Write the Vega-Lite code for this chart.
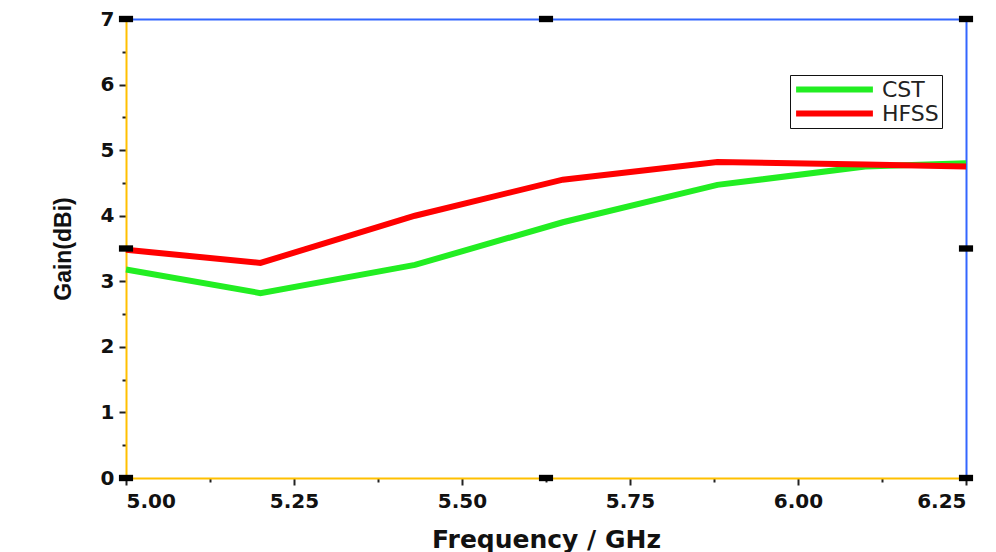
{
  "$schema": "https://vega.github.io/schema/vega-lite/v6.json",
  "autosize": {"type": "none"},
  "width": 840,
  "height": 459,
  "padding": {"left": 126, "top": 19, "right": 30, "bottom": 74},
  "background": "white",
  "config": {
    "view": {"stroke": null},
    "font": "DejaVu Sans",
    "axis": {"grid": false, "labelColor": "#111", "titleColor": "#111"}
  },
  "datasets": {
    "gain": [
      {"freq": 5.0, "gain": 3.18, "series": "CST"},
      {"freq": 5.2, "gain": 2.82, "series": "CST"},
      {"freq": 5.43, "gain": 3.25, "series": "CST"},
      {"freq": 5.65, "gain": 3.9, "series": "CST"},
      {"freq": 5.88, "gain": 4.47, "series": "CST"},
      {"freq": 6.1, "gain": 4.75, "series": "CST"},
      {"freq": 6.25, "gain": 4.8, "series": "CST"},
      {"freq": 5.0, "gain": 3.48, "series": "HFSS"},
      {"freq": 5.2, "gain": 3.28, "series": "HFSS"},
      {"freq": 5.43, "gain": 4.0, "series": "HFSS"},
      {"freq": 5.65, "gain": 4.55, "series": "HFSS"},
      {"freq": 5.88, "gain": 4.82, "series": "HFSS"},
      {"freq": 6.1, "gain": 4.78, "series": "HFSS"},
      {"freq": 6.25, "gain": 4.75, "series": "HFSS"}
    ],
    "markers": [
      {"freq": 5.0, "gain": 7}, {"freq": 5.625, "gain": 7}, {"freq": 6.25, "gain": 7},
      {"freq": 5.0, "gain": 3.5}, {"freq": 6.25, "gain": 3.5},
      {"freq": 5.0, "gain": 0}, {"freq": 5.625, "gain": 0}, {"freq": 6.25, "gain": 0}
    ]
  },
  "resolve": {"axis": {"x": "independent", "y": "independent"}},
  "layer": [
    {
      "data": {"name": "gain"},
      "mark": {"type": "line", "strokeWidth": 6, "interpolate": "linear"},
      "encoding": {
        "x": {
          "field": "freq", "type": "quantitative",
          "scale": {"domain": [5.0, 6.25], "nice": false, "zero": false},
          "axis": {
            "orient": "bottom", "title": "Frequency / GHz", "titleFont": "DejaVu Sans", "titleFontSize": 25, "titleFontWeight": "bold", "titlePadding": 16,
            "values": [5.0, 5.125, 5.25, 5.375, 5.5, 5.625, 5.75, 5.875, 6.0, 6.125, 6.25],
            "labelExpr": "(datum.value * 1000) % 250 == 0 ? format(datum.value, '.2f') : ''",
            "labelFont": "DejaVu Sans", "labelFontSize": 20, "labelFontWeight": "bold", "labelPadding": 6,
            "domainColor": "#FFC000", "domainWidth": 2,
            "tickColor": "#222", "tickWidth": 2,
            "tickSize": {"condition": {"test": "(datum.value * 1000) % 250 == 0", "value": 7}, "value": 4}
          }
        },
        "y": {
          "field": "gain", "type": "quantitative",
          "scale": {"domain": [0, 7], "nice": false},
          "axis": {
            "orient": "left", "title": "Gain(dBi)", "titleFont": "Liberation Sans", "titleFontSize": 23, "titleFontWeight": "bold", "titlePadding": 25,
            "values": [0, 0.5, 1, 1.5, 2, 2.5, 3, 3.5, 4, 4.5, 5, 5.5, 6, 6.5, 7],
            "labelExpr": "datum.value % 1 == 0 ? format(datum.value, 'd') : ''",
            "labelFont": "DejaVu Sans", "labelFontSize": 20, "labelFontWeight": "bold", "labelPadding": 5,
            "domainColor": "#FFC000", "domainWidth": 2,
            "tickColor": "#222", "tickWidth": 2,
            "tickSize": {"condition": {"test": "datum.value % 1 == 0", "value": 7}, "value": 4}
          }
        },
        "color": {
          "field": "series", "type": "nominal",
          "scale": {"domain": ["CST", "HFSS"], "range": ["#22ee22", "#ff0000"]},
          "legend": {
            "orient": "none", "legendX": 664, "legendY": 56,
            "title": null, "symbolType": "stroke", "symbolSize": 5900, "symbolStrokeWidth": 6,
            "clipHeight": 23,
            "labelFontSize": 22, "labelFont": "DejaVu Sans", "labelColor": "#222",
            "strokeColor": "#111", "padding": 3, "rowPadding": 1, "labelOffset": 6,
            "fillColor": "white"
          }
        }
      }
    },
    {
      "data": {"name": "markers"},
      "mark": {"type": "point", "shape": "M-1,-0.45H1V0.45H-1Z", "filled": true, "color": "black", "size": 200, "opacity": 1},
      "encoding": {
        "x": {
          "field": "freq", "type": "quantitative",
          "scale": {"domain": [5.0, 6.25], "nice": false, "zero": false},
          "axis": {"orient": "top", "title": null, "labels": false, "ticks": false, "domainColor": "#3366ff", "domainWidth": 2}
        },
        "y": {
          "field": "gain", "type": "quantitative",
          "scale": {"domain": [0, 7], "nice": false},
          "axis": {"orient": "right", "title": null, "labels": false, "ticks": false, "domainColor": "#3366ff", "domainWidth": 2}
        }
      }
    }
  ]
}
